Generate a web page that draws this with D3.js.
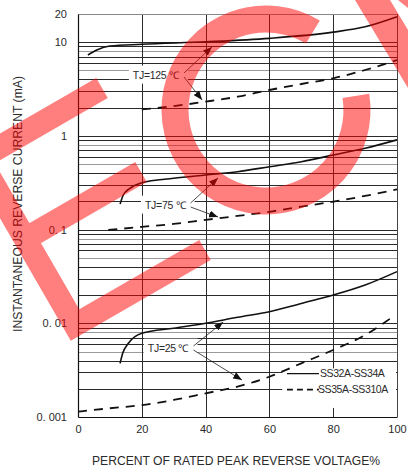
<!DOCTYPE html>
<html>
<head>
<meta charset="utf-8">
<script src="https://cdnjs.cloudflare.com/ajax/libs/d3/7.8.5/d3.min.js"></script>
<style>
  body { margin: 0; background: #fff; }
  text { font-family: "Liberation Sans", Arial, sans-serif; fill: #2a2a2a; }
</style>
</head>
<body>
<script>
// percent of rated peak reverse voltage / reverse current (mA)
var x125Solid = [3.1, 5.9, 10, 20, 40, 60, 80, 90, 100];
var y125Solid = [7.3, 8.26, 9.1, 9.5, 10.1, 11.0, 12.8, 14.6, 18.7];
var x125Dash = [20, 30, 40, 50, 60, 70, 80, 90, 100];
var y125Dash = [1.92, 2.08, 2.32, 2.62, 3.09, 3.58, 4.12, 5.05, 6.45];

var x75Solid = [13.2, 14.2, 16.3, 20, 30, 40, 50, 60, 70, 80, 90, 100];
var y75Solid = [0.188, 0.234, 0.276, 0.317, 0.353, 0.383, 0.415, 0.469, 0.531, 0.625, 0.738, 0.907];
var x75Dash = [9.5, 20, 30, 40, 50, 60, 70, 80, 90, 100];
var y75Dash = [0.099, 0.107, 0.115, 0.127, 0.140, 0.155, 0.176, 0.199, 0.229, 0.269];

var x25Solid = [13.2, 14, 15.8, 20, 30, 40, 50, 60, 70, 80, 90, 100];
var y25Solid = [0.00374, 0.00479, 0.00612, 0.00782, 0.00885, 0.0100, 0.0116, 0.0133, 0.0163, 0.0200, 0.0256, 0.0356];
var x25Dash = [0, 10, 20, 30, 40, 50, 60, 70, 80, 90, 98];
var y25Dash = [0.00114, 0.00124, 0.00134, 0.00152, 0.00179, 0.00211, 0.00269, 0.00374, 0.00519, 0.0075, 0.0113];

var xTicks = [0, 20, 40, 60, 80, 100];
var yTicks = [20, 10, 1, 0.1, 0.01, 0.001];
var yTickLabels = ["20", "10", "1", "0. 1", "0. 01", "0. 001"];

var seriesNames = ["SS32A-SS34A", "SS35A-SS310A"];
var tjLabels = ["TJ=125 \u2103", "TJ=75 \u2103", "TJ=25 \u2103"];
// label anchor [x%, mA], arrow tips [x%, mA]
var tjAt = [[17.2, 4.47], [21, 0.183], [21.9, 0.00545]];
var tjUpTip = [[42, 8.9], [43.9, 0.356], [45.5, 0.0103]];
var tjDownTip = [[38.9, 2.42], [43.9, 0.136], [51.4, 0.00248]];

var margin = {top: 14, right: 11, bottom: 54, left: 78},
    width = 408 - margin.left - margin.right,
    height = 471 - margin.top - margin.bottom;

var x = d3.scaleLinear().domain([0, 100]).range([0, width]);
var y = d3.scaleLog().domain([0.001, 20]).range([height, 0]);

var svg = d3.select("body").append("svg")
    .attr("width", 408)
    .attr("height", 471);

svg.append("rect").attr("width", 408).attr("height", 471).attr("fill", "#fff");

var defs = svg.append("defs");
defs.append("marker")
    .attr("id", "arr")
    .attr("markerUnits", "userSpaceOnUse")
    .attr("markerWidth", 9).attr("markerHeight", 7)
    .attr("refX", 9).attr("refY", 3.5)
    .attr("orient", "auto")
  .append("path")
    .attr("d", "M0,0 L9,3.5 L0,7 Z")
    .attr("fill", "#111");

var g = svg.append("g")
    .attr("transform", "translate(" + margin.left + "," + margin.top + ")");

// horizontal grid: every 1..9 of each decade
var hGrid = [];
for (var k = -3; k <= 1; k++) {
  for (var m = 1; m <= 9; m++) {
    var v = m * Math.pow(10, k);
    if (v > 0.0011 && v < 19) hGrid.push({v: v, m: m});
  }
}

g.selectAll(".hgrid")
    .data(hGrid)
  .enter().append("line")
    .attr("class", "hgrid")
    .attr("x1", 0).attr("x2", width)
    .attr("y1", function(d) { return Math.round(y(d.v)) + 0.5; })
    .attr("y2", function(d) { return Math.round(y(d.v)) + 0.5; })
    .attr("stroke", function(d) { return (d.m == 5 || d.m == 8) ? "#9a9a9a" : "#2a2a2a"; })
    .attr("stroke-width", 1);

g.selectAll(".vgrid")
    .data([20, 40, 60, 80])
  .enter().append("line")
    .attr("class", "vgrid")
    .attr("x1", function(d) { return Math.round(x(d)) + 0.5; })
    .attr("x2", function(d) { return Math.round(x(d)) + 0.5; })
    .attr("y1", 0).attr("y2", height)
    .attr("stroke", "#2a2a2a");

// frame
g.append("line").attr("x1", 0).attr("x2", width).attr("y1", 0.5).attr("y2", 0.5).attr("stroke", "#888");
g.append("line").attr("x1", width + 0.5).attr("x2", width + 0.5).attr("y1", 0).attr("y2", height).attr("stroke", "#444");

// legend box knocks out the grid
g.append("rect")
    .attr("x", x(64)).attr("y", y(0.0033))
    .attr("width", width - x(64) - 1)
    .attr("height", y(0.00125) - y(0.0033))
    .attr("fill", "#fff");

// axes
var xAxis = d3.axisBottom(x).tickValues(xTicks).tickSize(0).tickPadding(8);
var yAxis = d3.axisLeft(y).tickValues(yTicks).tickSize(0).tickPadding(11)
    .tickFormat(function(d, i) { return yTickLabels[i]; });

g.append("g")
    .attr("transform", "translate(0," + height + ")")
    .call(xAxis)
    .call(function(s) { s.select(".domain").attr("stroke", "#111").attr("stroke-width", 1.2); })
    .selectAll("text").style("font-size", "11px").style("fill", "#2a2a2a")
    .style("font-family", "'Liberation Sans', Arial, sans-serif");

g.append("g")
    .call(yAxis)
    .call(function(s) { s.select(".domain").attr("stroke", "#111").attr("stroke-width", 1.2); })
    .selectAll("text").style("font-size", "11px").style("fill", "#2a2a2a")
    .style("font-family", "'Liberation Sans', Arial, sans-serif");

// curves
function pts(xs, ys) { return xs.map(function(d, i) { return [d, ys[i]]; }); }
var line = d3.line()
    .x(function(d) { return x(d[0]); })
    .y(function(d) { return y(d[1]); })
    .curve(d3.curveMonotoneX);

var curves = [
  {p: pts(x125Solid, y125Solid), dash: false},
  {p: pts(x125Dash, y125Dash), dash: true},
  {p: pts(x75Solid, y75Solid), dash: false},
  {p: pts(x75Dash, y75Dash), dash: true},
  {p: pts(x25Solid, y25Solid), dash: false},
  {p: pts(x25Dash, y25Dash), dash: true}
];

// annotations (white patch behind label first)
tjLabels.forEach(function(lab, i) {
  var tx = x(tjAt[i][0]), ty = y(tjAt[i][1]);
  var box = g.append("rect").attr("fill", "#fff");
  var t = g.append("text")
      .attr("x", tx).attr("y", ty).attr("dy", "0.35em")
      .style("font-size", "10.5px")
      .style("letter-spacing", "-0.3px")
      .text(lab);
  var bb = t.node().getBBox();
  box.attr("x", bb.x - 4).attr("y", bb.y - 3)
     .attr("width", bb.width + 12).attr("height", bb.height + 6);
  var sx = bb.x + bb.width + 4;
  g.append("line")
      .attr("x1", sx).attr("y1", ty - 2)
      .attr("x2", x(tjUpTip[i][0])).attr("y2", y(tjUpTip[i][1]))
      .attr("stroke", "#222").attr("stroke-width", 0.8)
      .attr("marker-end", "url(#arr)");
  g.append("line")
      .attr("x1", sx).attr("y1", ty + 2)
      .attr("x2", x(tjDownTip[i][0])).attr("y2", y(tjDownTip[i][1]))
      .attr("stroke", "#222").attr("stroke-width", 0.8)
      .attr("marker-end", "url(#arr)");
});

g.selectAll(".curve")
    .data(curves)
  .enter().append("path")
    .attr("class", "curve")
    .attr("d", function(d) { return line(d.p); })
    .attr("fill", "none")
    .attr("stroke", "#111")
    .attr("stroke-width", function(d) { return d.dash ? 1.8 : 1.6; })
    .attr("stroke-dasharray", function(d) { return d.dash ? "9,7" : null; });

// legend
var legend = g.selectAll(".legend")
    .data(seriesNames)
  .enter().append("g")
    .attr("class", "legend")
    .attr("transform", function(d, i) { return "translate(" + (x(65.5)) + "," + (y(0.0029) + i * 16) + ")"; });

legend.append("line")
    .attr("x1", 0).attr("x2", 32)
    .attr("stroke", "#111")
    .attr("stroke-width", function(d, i) { return i ? 1.6 : 1.4; })
    .attr("stroke-dasharray", function(d, i) { return i ? "6,4" : null; });

legend.append("text")
    .attr("x", function(d, i) { return i ? 31 : 33; })
    .attr("dy", "0.35em")
    .style("font-size", "10.5px")
    .style("letter-spacing", "-0.4px")
    .text(function(d) { return d; });

// axis titles
svg.append("text")
    .attr("x", 236).attr("y", 461).attr("dy", "0.35em")
    .attr("text-anchor", "middle")
    .attr("textLength", 288).attr("lengthAdjust", "spacingAndGlyphs")
    .style("font-size", "12.5px")
    .text("PERCENT OF RATED PEAK REVERSE VOLTAGE%");

svg.append("text")
    .attr("transform", "translate(18,204) rotate(-90)")
    .attr("dy", "0.35em")
    .attr("text-anchor", "middle")
    .attr("textLength", 256).attr("lengthAdjust", "spacingAndGlyphs")
    .style("font-size", "12.5px")
    .text("INSTANTANEOUS REVERSE CURRENT  (mA)");

// red stamp over the sheet
var stamp = svg.append("g").attr("opacity", 0.5);
stamp.append("path")
    .attr("d", "M102,88 L-21,159 L75,325 L205,250 M25,239 L141,172")
    .attr("fill", "none").attr("stroke", "#f00")
    .attr("stroke-width", 23).attr("stroke-linejoin", "miter");
var cp = d3.path();
cp.arc(266, 110, 91, -9 * Math.PI / 180, 301 * Math.PI / 180);
stamp.append("path")
    .attr("d", cp.toString())
    .attr("fill", "none").attr("stroke", "#f00").attr("stroke-width", 27);
stamp.append("path")
    .attr("d", "M355,0 L390,0 L408,30 L408,88 Z M398,0 L408,0 L408,8 Z")
    .attr("fill", "#f00");
</script>
</body>
</html>
